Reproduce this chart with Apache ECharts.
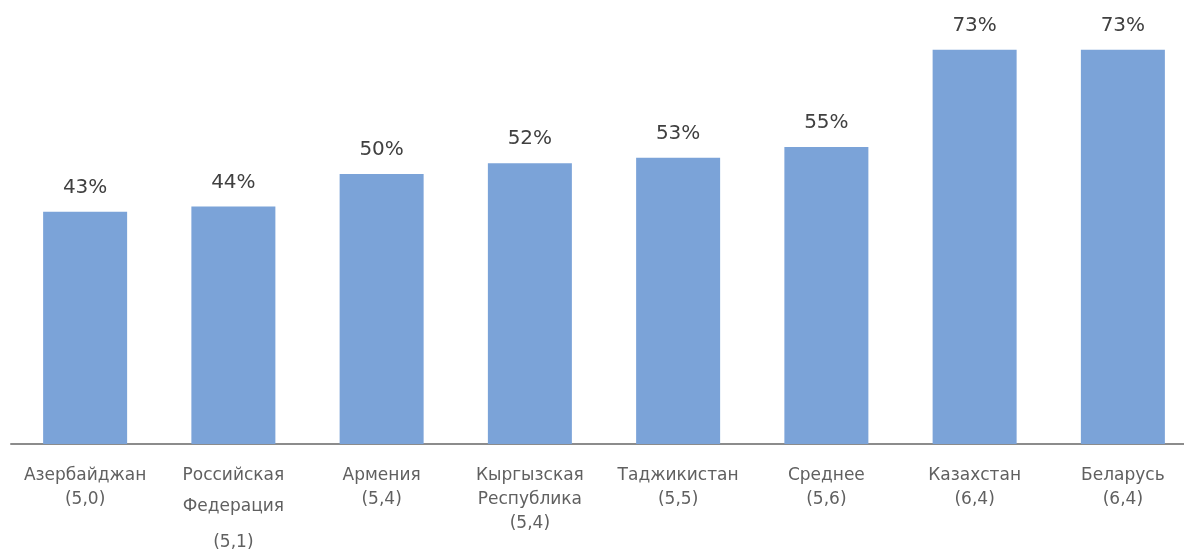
<!DOCTYPE html>
<html>
<head>
<meta charset="utf-8">
<script src="https://cdn.jsdelivr.net/npm/echarts@6/dist/echarts.min.js"></script>
<style>
  html, body { margin: 0; padding: 0; background: #ffffff; }
  #chart { width: 1184px; height: 553px; }
</style>
</head>
<body>
<div id="chart"></div>
<script>
// Country names (one entry per line) with their scores in brackets
const countries = [['Азербайджан'], ['Российская', 'Федерация'], ['Армения'], ['Кыргызская', 'Республика'], ['Таджикистан'], ['Среднее'], ['Казахстан'], ['Беларусь']];
const scores = ['(5,0)', '(5,1)', '(5,4)', '(5,4)', '(5,5)', '(5,6)', '(6,4)', '(6,4)'];
// Share, percent
const shares = [43, 44, 50, 52, 53, 55, 73, 73];

const categoryData = countries.map((lines, i) => lines.join(' ') + ' ' + scores[i]);

// Category label: name lines, then the score; the two-line Russian label is spaced wider
function labelText(value, index) {
  const lines = countries[index];
  if (index === 1) {
    return '{a|' + lines[0] + '}\n{b|' + lines[1] + '}\n{c|' + scores[index] + '}';
  }
  return lines.concat([scores[index]]).join('\n');
}

const chart = echarts.init(document.getElementById('chart'), null, { renderer: 'canvas' });
chart.setOption({
  animation: false,
  backgroundColor: '#ffffff',
  grid: { left: 11, right: -13, top: 12, bottom: 109, containLabel: false, outerBoundsMode: 'none' },
  xAxis: {
    type: 'category',
    data: categoryData,
    axisLine: { show: true, lineStyle: { color: '#8c8c8c', width: 2 } },
    axisTick: { show: false },
    axisLabel: {
      interval: 0,
      margin: 20,
      color: '#606060',
      fontFamily: 'DejaVu Sans',
      fontSize: 17,
      lineHeight: 24,
      formatter: labelText,
      rich: {
        a: { color: '#606060', fontFamily: 'DejaVu Sans', fontSize: 17, lineHeight: 24 },
        b: { color: '#606060', fontFamily: 'DejaVu Sans', fontSize: 17, lineHeight: 38 },
        c: { color: '#606060', fontFamily: 'DejaVu Sans', fontSize: 17, lineHeight: 34 }
      }
    }
  },
  yAxis: {
    type: 'value',
    min: 0,
    max: 80,
    show: false,
    splitLine: { show: false }
  },
  series: [{
    type: 'bar',
    data: shares,
    barWidth: 84,
    itemStyle: { color: '#7ba3d8' },
    label: {
      show: true,
      position: 'top',
      distance: 14,
      formatter: '{c}%',
      color: '#404040',
      fontFamily: 'DejaVu Sans',
      fontSize: 20
    }
  }]
});
</script>
</body>
</html>
